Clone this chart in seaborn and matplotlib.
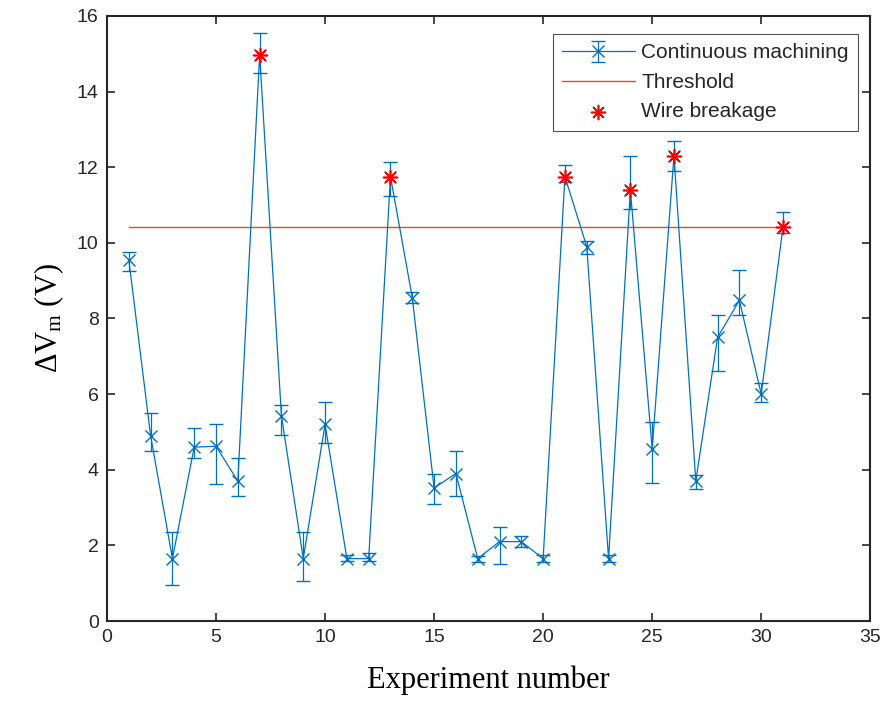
import matplotlib
matplotlib.use("Agg")
import matplotlib.pyplot as plt
import seaborn as sns
import numpy as np
import pandas as pd

# experiment data
experiment = list(range(1, 32))
dvm = [9.55, 4.9, 1.65, 4.6, 4.62, 3.7, 14.98, 5.42, 1.65, 5.2,
       1.65, 1.65, 11.75, 8.55, 3.52, 3.9, 1.65, 2.1, 2.1, 1.65,
       11.75, 9.9, 1.65, 11.4, 4.55, 12.3, 3.7, 7.5, 8.48, 6.0, 10.42]
upper = [9.75, 5.5, 2.35, 5.1, 5.22, 4.3, 15.55, 5.72, 2.35, 5.8,
         1.75, 1.8, 12.15, 8.7, 3.9, 4.5, 1.72, 2.48, 2.25, 1.75,
         12.05, 10.05, 1.75, 12.3, 5.25, 12.7, 3.85, 8.1, 9.28, 6.3, 10.82]
lower = [9.25, 4.5, 0.95, 4.3, 3.62, 3.3, 14.48, 4.92, 1.05, 4.7,
         1.58, 1.58, 11.25, 8.4, 3.1, 3.3, 1.55, 1.5, 1.95, 1.55,
         11.6, 9.7, 1.55, 10.9, 3.65, 11.9, 3.5, 6.6, 8.08, 5.8, 10.25]
threshold = 10.42
breakage_idx = [7, 13, 21, 24, 26, 31]

df = pd.DataFrame({"exp": experiment, "dvm": dvm, "up": upper, "lo": lower})
brk = df[df["exp"].isin(breakage_idx)]
thr = pd.DataFrame({"exp": [experiment[0], experiment[-1]], "v": [threshold, threshold]})

sns.set_style("white")
plt.rcParams["font.family"] = ["Liberation Sans", "DejaVu Sans"]
plt.rcParams["mathtext.fontset"] = "custom"
plt.rcParams["mathtext.rm"] = "Liberation Serif"
plt.rcParams["mathtext.it"] = "Liberation Serif:italic"
plt.rcParams["mathtext.default"] = "rm"

fig = plt.figure(figsize=(8.88, 7.13), dpi=100)
ax = fig.add_axes([0.1205, 0.129, 0.8595, 0.8486])

blue = "#0072BD"
orange = "#D95319"

yerr = np.vstack([df["dvm"] - df["lo"], df["up"] - df["dvm"]])
eb = ax.errorbar(df["exp"], df["dvm"], yerr=yerr, color=blue, marker="x",
                 markersize=8, markeredgewidth=1.0, linewidth=0.9, elinewidth=0.9,
                 capsize=5, capthick=0.9, label="Continuous machining")
sns.lineplot(data=thr, x="exp", y="v", color=orange, linewidth=1.0,
             ax=ax, label="Threshold")
sns.scatterplot(data=brk, x="exp", y="dvm", marker=(8, 2, 0), color="red",
                s=100, edgecolor="red", linewidth=1.2, ax=ax,
                label="Wire breakage", zorder=5)

ax.set_xlim(0, 35)
ax.set_ylim(0, 16)
ax.set_xticks(range(0, 36, 5))
ax.set_yticks(range(0, 17, 2))

for lab in ax.get_xticklabels() + ax.get_yticklabels():
    lab.set_fontsize(14)
    lab.set_color("#262626")

ax.tick_params(direction="in", length=6, width=1.2, top=True, right=True,
               bottom=True, left=True, color="#262626", pad=6)
for s in ax.spines.values():
    s.set_linewidth(1.5)
    s.set_color("#262626")

ax.set_xlabel("Experiment number", family="Liberation Serif", fontsize=22,
              labelpad=14, color="black")
ax.set_ylabel(r"ΔV$_\mathrm{m}$ (V)", family="Liberation Serif", fontsize=22,
              labelpad=8, color="black")

handles, labels = ax.get_legend_handles_labels()
order = ["Continuous machining", "Threshold", "Wire breakage"]
hmap = dict(zip(labels, handles))
leg = ax.legend([hmap[k] for k in order], order, loc="upper right",
                bbox_to_anchor=(0.984, 0.970), borderaxespad=0, fontsize=15,
                frameon=True, fancybox=False, edgecolor="#262626",
                handlelength=3.5, labelspacing=0.5,
                borderpad=0.45, handletextpad=0.3)
leg.get_frame().set_linewidth(0.8)

fig.savefig("out.png", dpi=100)
